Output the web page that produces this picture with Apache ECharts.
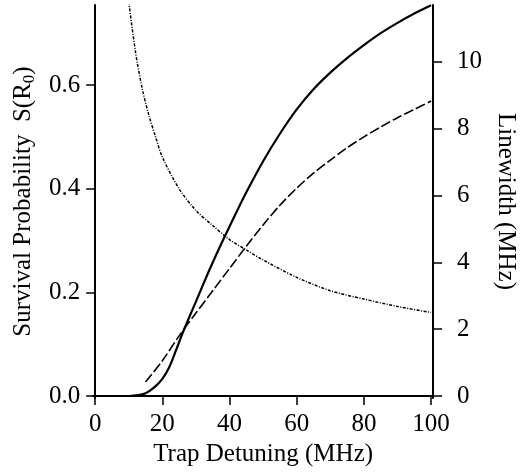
<!DOCTYPE html>
<html>
<head>
<meta charset="utf-8">
<script src="https://cdn.jsdelivr.net/npm/echarts@6/dist/echarts.min.js"></script>
<style>
  html, body { margin: 0; padding: 0; background: #fff; }
  #chart { width: 526px; height: 472px; }
</style>
</head>
<body>
<div id="chart"></div>
<script>
// values
const survivalX = [0, 10, 12, 14, 16, 18, 20, 22, 24, 26, 28, 30, 32, 34, 36, 38, 40, 42, 45, 50, 55, 60, 65, 70, 75, 80, 85, 90, 95, 100];
const survival = [0, 0, 0.001, 0.003, 0.009, 0.019, 0.033, 0.055, 0.087, 0.121, 0.152, 0.182, 0.213, 0.243, 0.272, 0.3, 0.327, 0.354, 0.393, 0.453, 0.506, 0.553, 0.592, 0.624, 0.652, 0.677, 0.70, 0.72, 0.738, 0.754];

const approxX = [15, 20, 25, 30, 35, 40, 45, 50, 55, 60, 65, 70, 75, 80, 85, 90, 95, 100];
const approx = [0.027, 0.068, 0.116, 0.16, 0.203, 0.246, 0.289, 0.33, 0.368, 0.401, 0.43, 0.455, 0.479, 0.5, 0.519, 0.537, 0.553, 0.569];

const widthX = [10, 12, 14, 16, 18, 20, 25, 30, 35, 40, 45, 50, 60, 70, 80, 90, 100];
const linewidth = [11.8, 10.3, 9.2, 8.4, 7.75, 7.15, 6.2, 5.55, 5.1, 4.68, 4.37, 4.07, 3.55, 3.15, 2.9, 2.68, 2.5];

const xTicks = [0, 20, 40, 60, 80, 100];
const leftTicks = [0, 0.2, 0.4, 0.6];
const rightTicks = [0, 2, 4, 6, 8, 10];

const pair = (xs, ys) => xs.map((x, i) => [x, ys[i]]);

const font = "'Liberation Serif', 'DejaVu Serif', serif";
const ink = "#000";

const axisCommon = {
  axisLine: { show: true, lineStyle: { color: ink, width: 2 } },
  axisTick: { show: true, length: 9, lineStyle: { color: ink, width: 1.5 } },
  splitLine: { show: false },
  nameLocation: "middle",
};

const chart = echarts.init(document.getElementById("chart"), null, { renderer: "canvas" });

chart.setOption({
  animation: false,
  backgroundColor: "#fff",
  grid: { left: 93, right: 90, top: 5, bottom: 74, containLabel: false },
  xAxis: {
    ...axisCommon,
    type: "value",
    min: -0.6,
    max: 100.6,
    name: "Trap Detuning (MHz)",
    nameGap: 44,
    nameTextStyle: { fontFamily: font, fontSize: 25, color: ink },
    axisTick: { ...axisCommon.axisTick, customValues: xTicks },
    axisLabel: { customValues: xTicks, margin: 14, fontFamily: font, fontSize: 25, color: ink },
  },
  yAxis: [
    {
      ...axisCommon,
      type: "value",
      position: "left",
      min: -0.0039,
      max: 0.7544,
      name: "Survival Probability  S(R{sub|0})",
      nameGap: 52,
      nameRotate: 90,
      nameTextStyle: {
        fontFamily: font, fontSize: 25, color: ink, lineHeight: 30,
        rich: { sub: { fontFamily: font, fontSize: 17, color: ink, lineHeight: 16, verticalAlign: "bottom" } },
      },
      axisTick: { ...axisCommon.axisTick, customValues: leftTicks },
      axisLabel: {
        customValues: leftTicks, margin: 13, fontFamily: font, fontSize: 25, color: ink,
        formatter: (v) => v.toFixed(1),
      },
    },
    {
      ...axisCommon,
      type: "value",
      position: "right",
      min: -0.06,
      max: 11.7,
      name: "Linewidth (MHz)",
      nameGap: 57,
      nameRotate: -90,
      nameTextStyle: { fontFamily: font, fontSize: 25, color: ink },
      axisTick: { ...axisCommon.axisTick, customValues: rightTicks },
      axisLabel: { customValues: rightTicks, margin: 24, fontFamily: font, fontSize: 25, color: ink },
    },
  ],
  series: [
    {
      name: "survival",
      type: "line",
      yAxisIndex: 0,
      data: pair(survivalX, survival),
      showSymbol: false,
      smooth: 0.3,
      lineStyle: { color: ink, width: 2.2, type: "solid" },
    },
    {
      name: "approx",
      type: "line",
      yAxisIndex: 0,
      data: pair(approxX, approx),
      showSymbol: false,
      smooth: 0.3,
      lineStyle: { color: ink, width: 1.6, type: [10, 3] },
    },
    {
      name: "linewidth",
      type: "line",
      yAxisIndex: 1,
      data: pair(widthX, linewidth),
      showSymbol: false,
      smooth: 0.3,
      clip: true,
      lineStyle: { color: ink, width: 1.5, type: [3, 1.5, 1, 1.5] },
    },
  ],
});
</script>
</body>
</html>
